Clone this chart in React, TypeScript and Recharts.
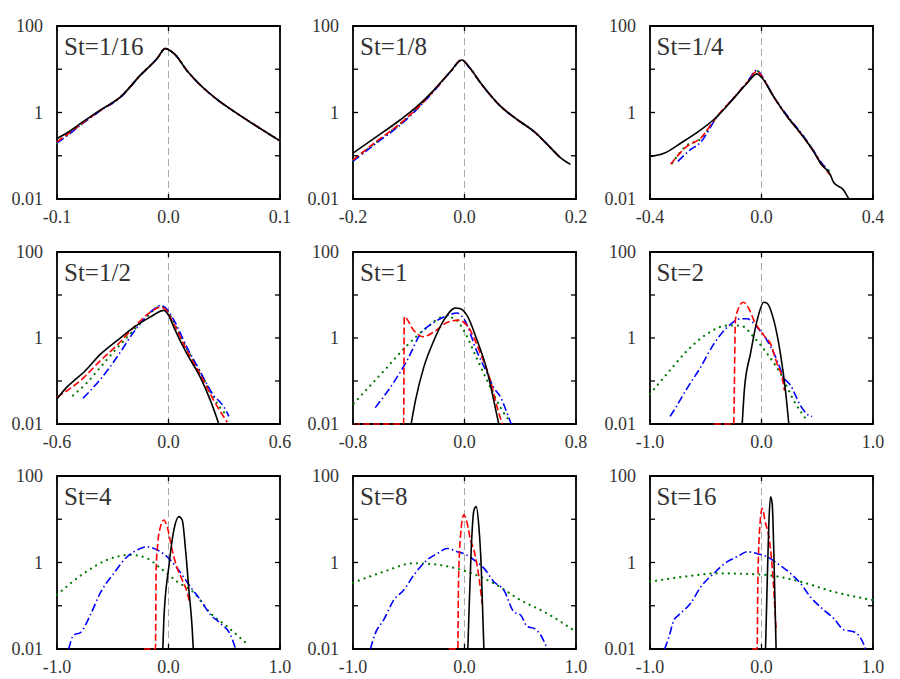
import { LineChart, Line, XAxis, YAxis, ReferenceLine, ReferenceArea } from "recharts"

type Pair = [number, number]

// St=1/16
const p1Black: Pair[] = [[-0.1, 0.25], [-0.091, 0.34], [-0.076, 0.63], [-0.061, 1.15], [-0.043, 2.3], [-0.025, 7.4], [-0.01, 18], [-0.003, 30], [0.005, 23], [0.017, 9], [0.029, 4.2], [0.044, 1.96], [0.059, 1.05], [0.077, 0.52], [0.1, 0.22]]
const p1Red: Pair[] = [[-0.1, 0.21], [-0.091, 0.31], [-0.076, 0.6], [-0.061, 1.12], [-0.043, 2.3], [-0.025, 7.4], [-0.01, 18], [-0.003, 30], [0.005, 23], [0.017, 9], [0.029, 4.2], [0.044, 1.96], [0.059, 1.05], [0.077, 0.52], [0.1, 0.22]]
const p1Green: Pair[] = [[-0.1, 0.2], [-0.091, 0.3], [-0.076, 0.6], [-0.061, 1.12], [-0.043, 2.3], [-0.025, 7.4], [-0.01, 18], [-0.003, 30], [0.005, 23], [0.017, 9], [0.029, 4.2], [0.044, 1.96], [0.059, 1.05], [0.077, 0.52], [0.1, 0.22]]
const p1Blue: Pair[] = [[-0.1, 0.2], [-0.091, 0.29], [-0.076, 0.58], [-0.061, 1.1], [-0.043, 2.25], [-0.025, 7.3], [-0.01, 18], [-0.003, 30], [0.005, 23], [0.017, 9], [0.029, 4.2], [0.044, 1.96], [0.059, 1.05], [0.077, 0.52], [0.1, 0.22]]

// St=1/8
const p2Black: Pair[] = [[-0.2, 0.115], [-0.157, 0.28], [-0.115, 0.68], [-0.085, 1.38], [-0.055, 3.3], [-0.025, 8.9], [-0.005, 16.4], [0.01, 10.5], [0.029, 4.8], [0.065, 1.38], [0.095, 0.68], [0.125, 0.36], [0.155, 0.15], [0.172, 0.09], [0.19, 0.063]]
const p2Red: Pair[] = [[-0.2, 0.08], [-0.157, 0.22], [-0.115, 0.56], [-0.085, 1.25], [-0.055, 3.2], [-0.025, 8.9], [-0.005, 16.4], [0.01, 10.5], [0.029, 4.8], [0.065, 1.38], [0.095, 0.68], [0.125, 0.36], [0.155, 0.15], [0.172, 0.09]]
const p2Green: Pair[] = [[-0.2, 0.078], [-0.157, 0.21], [-0.115, 0.55], [-0.085, 1.25], [-0.055, 3.2], [-0.025, 8.9], [-0.005, 16.4], [0.01, 10.5], [0.029, 4.8], [0.065, 1.38], [0.095, 0.68], [0.125, 0.36], [0.155, 0.15], [0.172, 0.09]]
const p2Blue: Pair[] = [[-0.2, 0.075], [-0.157, 0.2], [-0.115, 0.52], [-0.085, 1.2], [-0.055, 3.1], [-0.025, 8.8], [-0.005, 16.4], [0.01, 10.5], [0.029, 4.8], [0.065, 1.38], [0.095, 0.68], [0.125, 0.36], [0.155, 0.15], [0.172, 0.088]]

// St=1/4
const p3Black: Pair[] = [[-0.4, 0.096], [-0.35, 0.114], [-0.29, 0.195], [-0.217, 0.4], [-0.159, 0.81], [-0.099, 2.15], [-0.051, 4.8], [-0.016, 7.8], [0.0, 6.5], [0.044, 2.3], [0.092, 0.81], [0.14, 0.33], [0.187, 0.125], [0.211, 0.068], [0.247, 0.036], [0.259, 0.024], [0.295, 0.016], [0.313, 0.01]]
const p3Red: Pair[] = [[-0.326, 0.064], [-0.27, 0.16], [-0.217, 0.26], [-0.165, 0.74], [-0.099, 2.2], [-0.051, 5], [-0.016, 9], [0.0, 7], [0.044, 2.3], [0.092, 0.81], [0.14, 0.33], [0.187, 0.125], [0.211, 0.07], [0.247, 0.036]]
const p3Green: Pair[] = [[-0.32, 0.068], [-0.27, 0.17], [-0.217, 0.25], [-0.165, 0.72], [-0.099, 2.2], [-0.051, 5], [-0.016, 9.2], [0.0, 7], [0.044, 2.3], [0.092, 0.81], [0.14, 0.34], [0.187, 0.13], [0.211, 0.072], [0.255, 0.04]]
const p3Blue: Pair[] = [[-0.3, 0.074], [-0.26, 0.13], [-0.217, 0.21], [-0.165, 0.7], [-0.099, 2.2], [-0.051, 5.1], [-0.016, 9.5], [0.0, 7.2], [0.044, 2.3], [0.092, 0.85], [0.14, 0.35], [0.187, 0.13], [0.211, 0.075], [0.24, 0.045]]

// St=1/2
const p4Black: Pair[] = [[-0.6, 0.038], [-0.55, 0.07], [-0.5, 0.11], [-0.456, 0.16], [-0.366, 0.42], [-0.277, 0.87], [-0.187, 1.77], [-0.097, 3.1], [-0.025, 4.4], [0.0, 3.4], [0.029, 1.77], [0.1, 0.42], [0.172, 0.12], [0.226, 0.035], [0.271, 0.01]]
const p4Red: Pair[] = [[-0.6, 0.042], [-0.456, 0.12], [-0.366, 0.3], [-0.277, 0.68], [-0.187, 1.77], [-0.097, 4.0], [-0.043, 5.2], [-0.02, 4.8], [0.029, 2.1], [0.1, 0.5], [0.172, 0.14], [0.244, 0.035], [0.316, 0.011]]
const p4Green: Pair[] = [[-0.514, 0.046], [-0.44, 0.09], [-0.366, 0.21], [-0.3, 0.45], [-0.24, 0.87], [-0.133, 2.6], [-0.043, 5.4], [-0.02, 5], [0.029, 2.3], [0.1, 0.55], [0.172, 0.16], [0.244, 0.04], [0.316, 0.015]]
const p4Blue: Pair[] = [[-0.46, 0.04], [-0.42, 0.06], [-0.366, 0.11], [-0.277, 0.36], [-0.187, 1.38], [-0.097, 4.0], [-0.043, 5.7], [-0.02, 5.2], [0.029, 2.6], [0.1, 0.6], [0.172, 0.16], [0.21, 0.08], [0.244, 0.045], [0.27, 0.035], [0.298, 0.025], [0.325, 0.015]]

// St=1
const p5Black: Pair[] = [[-0.383, 0.01], [-0.352, 0.035], [-0.292, 0.21], [-0.22, 0.87], [-0.148, 2.6], [-0.065, 5.0], [-0.029, 4.8], [0.019, 3.3], [0.091, 0.87], [0.163, 0.17], [0.21, 0.035], [0.246, 0.01]]
const p5Red: Pair[] = [[-0.8, 0.01], [-0.437, 0.01], [-0.432, 3.1], [-0.364, 1.5], [-0.297, 1.07], [-0.22, 1.38], [-0.125, 2.3], [-0.041, 2.6], [0.019, 1.95], [0.115, 0.43], [0.187, 0.1], [0.235, 0.024], [0.271, 0.01]]
const p5Green: Pair[] = [[-0.795, 0.03], [-0.58, 0.17], [-0.412, 0.67], [-0.268, 1.78], [-0.148, 3.1], [-0.077, 2.9], [-0.005, 1.5], [0.091, 0.32], [0.187, 0.07], [0.259, 0.024], [0.331, 0.011]]
const p5Blue: Pair[] = [[-0.64, 0.024], [-0.508, 0.093], [-0.412, 0.3], [-0.316, 1.25], [-0.22, 2.3], [-0.125, 3.3], [-0.053, 3.8], [-0.005, 2.8], [0.091, 0.47], [0.163, 0.15], [0.21, 0.07], [0.259, 0.042], [0.295, 0.022], [0.335, 0.01]]

// St=2
const p6Black: Pair[] = [[-0.173, 0.01], [-0.152, 0.07], [-0.099, 0.43], [-0.039, 2.6], [0.021, 6.8], [0.051, 6.4], [0.11, 2.6], [0.17, 0.43], [0.215, 0.06], [0.245, 0.01]]
const p6Red: Pair[] = [[-0.427, 0.01], [-0.25, 0.01], [-0.234, 2.6], [-0.212, 4.5], [-0.164, 6.8], [-0.113, 4.8], [-0.069, 2.6], [0.021, 1.15], [0.081, 0.73], [0.14, 0.25], [0.185, 0.12], [0.206, 0.06]]
const p6Green: Pair[] = [[-1, 0.05], [-0.845, 0.15], [-0.666, 0.51], [-0.487, 1.25], [-0.307, 1.95], [-0.188, 1.95], [-0.069, 1.05], [0.051, 0.43], [0.17, 0.15], [0.29, 0.035], [0.409, 0.012]]
const p6Blue: Pair[] = [[-0.82, 0.015], [-0.77, 0.024], [-0.68, 0.06], [-0.546, 0.21], [-0.427, 0.73], [-0.307, 1.78], [-0.188, 2.8], [-0.128, 2.8], [-0.039, 1.78], [0.051, 0.87], [0.14, 0.3], [0.2, 0.12], [0.26, 0.08], [0.349, 0.027], [0.42, 0.016], [0.454, 0.015]]

// St=4
const p7Black: Pair[] = [[-0.051, 0.01], [-0.042, 0.047], [0.003, 0.8], [0.048, 5.6], [0.093, 11.5], [0.123, 9.6], [0.153, 1.95], [0.183, 0.23], [0.213, 0.028], [0.222, 0.01]]
const p7Red: Pair[] = [[-0.222, 0.01], [-0.117, 0.01], [-0.111, 0.67], [-0.096, 2.8], [-0.072, 6.7], [-0.042, 9.6], [-0.012, 6.7], [0.033, 1.95], [0.078, 0.74], [0.123, 0.4], [0.168, 0.2], [0.189, 0.12]]
const p7Green: Pair[] = [[-1, 0.18], [-0.76, 0.56], [-0.55, 1.15], [-0.341, 1.5], [-0.192, 1.25], [-0.072, 0.74], [0.078, 0.36], [0.228, 0.2], [0.377, 0.067], [0.527, 0.033], [0.692, 0.014]]
const p7Blue: Pair[] = [[-0.895, 0.01], [-0.85, 0.021], [-0.79, 0.024], [-0.7, 0.062], [-0.611, 0.2], [-0.491, 0.56], [-0.371, 1.36], [-0.281, 1.95], [-0.192, 2.3], [-0.102, 1.95], [-0.012, 1.36], [0.078, 0.74], [0.198, 0.27], [0.287, 0.135], [0.377, 0.062], [0.467, 0.039], [0.557, 0.021], [0.602, 0.01]]

// St=8
const p8Black: Pair[] = [[0.03, 0.01], [0.039, 0.056], [0.06, 1.95], [0.084, 16], [0.105, 19.6], [0.129, 6.7], [0.15, 0.8], [0.174, 0.01]]
const p8Red: Pair[] = [[-0.14, 0.01], [-0.06, 0.01], [-0.054, 0.33], [-0.036, 4.0], [-0.006, 12.6], [0.024, 8], [0.054, 3.3], [0.084, 1.95], [0.129, 0.47], [0.159, 0.11]]
const p8Green: Pair[] = [[-1, 0.34], [-0.725, 0.61], [-0.455, 0.96], [-0.216, 0.87], [0.024, 0.61], [0.263, 0.33], [0.503, 0.135], [0.743, 0.066], [1, 0.025]]
const p8Blue: Pair[] = [[-0.844, 0.01], [-0.8, 0.023], [-0.725, 0.047], [-0.635, 0.135], [-0.545, 0.23], [-0.455, 0.51], [-0.335, 1.15], [-0.246, 1.6], [-0.156, 2.1], [-0.066, 1.78], [-0.006, 1.6], [0.084, 1.15], [0.174, 0.74], [0.263, 0.36], [0.353, 0.23], [0.443, 0.072], [0.503, 0.061], [0.563, 0.033], [0.623, 0.03], [0.683, 0.021], [0.743, 0.01]]

// St=16
const p9Black: Pair[] = [[0.036, 0.01], [0.051, 0.33], [0.066, 8.1], [0.081, 33], [0.096, 23], [0.11, 1.95], [0.131, 0.01]]
const p9Red: Pair[] = [[-0.084, 0.01], [-0.039, 0.01], [-0.033, 0.33], [-0.015, 6.8], [0.006, 17.8], [0.036, 8.1], [0.066, 4.0], [0.096, 0.8], [0.131, 0.025]]
const p9Green: Pair[] = [[-1, 0.36], [-0.696, 0.47], [-0.397, 0.56], [-0.099, 0.54], [0.11, 0.49], [0.349, 0.36], [0.648, 0.21], [1, 0.135]]
const p9Blue: Pair[] = [[-0.869, 0.01], [-0.83, 0.019], [-0.785, 0.047], [-0.74, 0.062], [-0.636, 0.114], [-0.546, 0.27], [-0.427, 0.56], [-0.307, 1.05], [-0.218, 1.36], [-0.128, 1.78], [-0.039, 1.6], [0.051, 1.36], [0.14, 0.96], [0.26, 0.56], [0.349, 0.33], [0.439, 0.16], [0.558, 0.08], [0.648, 0.051], [0.737, 0.028], [0.827, 0.025], [0.916, 0.013], [0.931, 0.01]]

const stLabels = ["St=1/16", "St=1/8", "St=1/4", "St=1/2", "St=1", "St=2", "St=4", "St=8", "St=16"]
const xRanges = [0.1, 0.2, 0.4, 0.6, 0.8, 1.0, 1.0, 1.0, 1.0]
const yTicks = [0.01, 0.1, 1, 10, 100]
const yTickLabels: Record<number, string> = { 0.01: "0.01", 1: "1", 100: "100" }

const blackSeries = [p1Black, p2Black, p3Black, p4Black, p5Black, p6Black, p7Black, p8Black, p9Black]
const redSeries = [p1Red, p2Red, p3Red, p4Red, p5Red, p6Red, p7Red, p8Red, p9Red]
const greenSeries = [p1Green, p2Green, p3Green, p4Green, p5Green, p6Green, p7Green, p8Green, p9Green]
const blueSeries = [p1Blue, p2Blue, p3Blue, p4Blue, p5Blue, p6Blue, p7Blue, p8Blue, p9Blue]

const FONT = "Liberation Serif"
const TEXT = "#333"

// layout of the plot frames in page pixels
const colLeft = [57, 353, 649.5]
const plotW = 223
const rowTop = [26, 252, 476]
const rowH = [173, 172, 173]
const Y_AXIS_W = 56
const M_TOP = 10
const M_RIGHT = 12
const X_AXIS_H = 36
const TICK = 5

const toPts = (a: Pair[]) => a.map(([x, y]) => ({ x, y }))

function Panel({ idx }: { idx: number }) {
  const col = idx % 3
  const row = Math.floor(idx / 3)
  const h = rowH[row]
  const range = xRanges[idx]
  const L = Y_AXIS_W
  const R = Y_AXIS_W + plotW
  const T = M_TOP
  const B = M_TOP + h

  const yTick = (p: any) => {
    const v = p.payload.value
    const label = yTickLabels[v]
    return (
      <g>
        <line x1={L} x2={L + TICK} y1={p.y} y2={p.y} stroke="#000" strokeWidth={1.3} />
        <line x1={R - TICK} x2={R} y1={p.y} y2={p.y} stroke="#000" strokeWidth={1.3} />
        {label && (
          <text x={L - 14} y={p.y} textAnchor="end" dominantBaseline="central" fill={TEXT} fontSize={18} fontFamily={FONT}>
            {label}
          </text>
        )}
      </g>
    )
  }

  const xTick = (p: any) => {
    const v = p.payload.value as number
    return (
      <g>
        <line x1={p.x} x2={p.x} y1={T} y2={T + TICK} stroke="#000" strokeWidth={1.3} />
        <line x1={p.x} x2={p.x} y1={B - TICK} y2={B} stroke="#000" strokeWidth={1.3} />
        <text x={p.x} y={B + 24} textAnchor="middle" fill={TEXT} fontSize={18} fontFamily={FONT}>
          {v.toFixed(1)}
        </text>
      </g>
    )
  }

  return (
    <div style={{ position: "absolute", left: colLeft[col] - Y_AXIS_W, top: rowTop[row] - M_TOP }}>
      <LineChart
        width={plotW + Y_AXIS_W + M_RIGHT}
        height={h + M_TOP + X_AXIS_H}
        margin={{ top: M_TOP, right: M_RIGHT, left: 0, bottom: 0 }}
      >
        <XAxis
          type="number"
          dataKey="x"
          domain={[-range, range]}
          ticks={[-range, 0, range]}
          interval={0}
          height={X_AXIS_H}
          axisLine={false}
          tickLine={false}
          tick={xTick}
        />
        <YAxis
          type="number"
          scale="log"
          domain={[0.01, 100]}
          ticks={yTicks}
          interval={0}
          width={Y_AXIS_W}
          axisLine={false}
          tickLine={false}
          tick={yTick}
        />
        <ReferenceLine x={0} stroke="#aaa" strokeWidth={1} strokeDasharray="7 4" />
        <ReferenceArea
          x1={-range}
          x2={range}
          y1={0.01}
          y2={100}
          fill="none"
          fillOpacity={0}
          stroke="#000"
          strokeWidth={1.8}
          ifOverflow="visible"
        />
        <Line data={toPts(greenSeries[idx])} dataKey="y" type="monotone" stroke="#007a00" strokeWidth={2.2}
          strokeDasharray="0.1 6" strokeLinecap="round" dot={false} isAnimationActive={false} />
        <Line data={toPts(blueSeries[idx])} dataKey="y" type="monotone" stroke="#0000ff" strokeWidth={1.6}
          strokeDasharray="8 3 1.5 3" dot={false} isAnimationActive={false} />
        <Line data={toPts(redSeries[idx])} dataKey="y" type="monotone" stroke="#ff0000" strokeWidth={1.6}
          strokeDasharray="7 3" dot={false} isAnimationActive={false} />
        <Line data={toPts(blackSeries[idx])} dataKey="y" type="monotone" stroke="#000" strokeWidth={1.6}
          dot={false} isAnimationActive={false} />
      </LineChart>
      <div
        style={{
          position: "absolute",
          left: Y_AXIS_W + 7,
          top: M_TOP + 8,
          fontFamily: FONT,
          fontSize: 25,
          lineHeight: "26px",
          color: TEXT,
          whiteSpace: "nowrap",
        }}
      >
        {stLabels[idx]}
      </div>
    </div>
  )
}

export default function App() {
  return (
    <div style={{ position: "relative", width: 900, height: 679, background: "#fff" }}>
      <style>{"body{margin:0}"}</style>
      {stLabels.map((_, i) => (
        <Panel key={i} idx={i} />
      ))}
    </div>
  )
}
